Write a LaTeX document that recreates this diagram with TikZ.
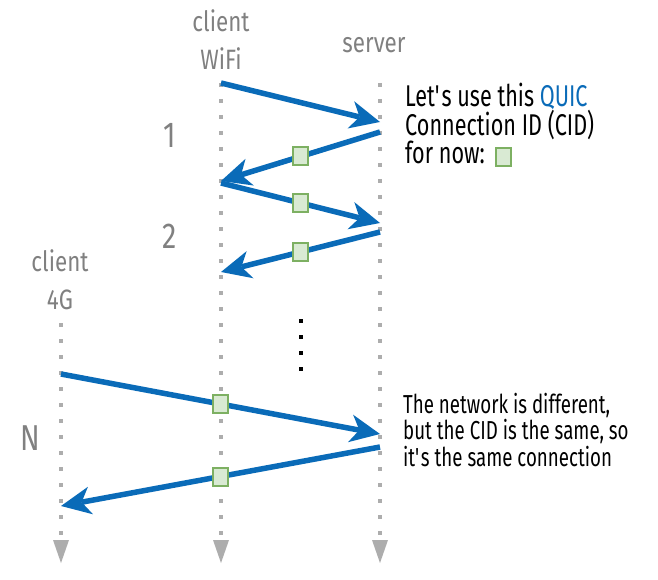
\documentclass[tikz,border=0pt]{standalone}
\usepackage{fontspec}
\setmainfont[FakeStretch=0.72]{Fira Sans}
\newfontfamily\labelfont[FakeStretch=0.8]{Fira Sans}
\usetikzlibrary{arrows.meta}

\definecolor{quicblue}{HTML}{0A6BB8}
\definecolor{labelgray}{HTML}{808080}
\definecolor{dotgray}{HTML}{ADADAD}
\definecolor{cidfill}{HTML}{D9EAD3}
\definecolor{cidline}{HTML}{7DB062}

\tikzset{
  lifeline/.style={dotgray, line width=4pt, dash pattern=on 4pt off 12pt,
    -{Triangle[length=23pt,width=16pt,line width=0pt]}},
  msg/.style={quicblue, line width=5.5pt,
    -{Stealth[length=30pt,width=28pt,inset=9pt,line width=0pt]}},
  cid/.style={draw=cidline, fill=cidfill, line width=2pt, minimum width=15pt,
    minimum height=18pt, inner sep=0pt},
  actor/.style={labelgray, align=center, inner sep=0pt, font=\labelfont\fontsize{28}{38}\selectfont},
  stepnum/.style={labelgray, inner sep=0pt, font=\labelfont\fontsize{36}{36}\selectfont},
  note/.style={black, align=left, inner sep=0pt}
}

\begin{document}
\begin{tikzpicture}[x=1pt,y=-1pt]
  \useasboundingbox (0,0) rectangle (658,580);

  % who talks
  \node[actor, anchor=base] (wifi) at (221,70) {client\\WiFi};
  \node[actor, anchor=base] (server) at (374,53) {server};
  \node[actor, anchor=base] (lte) at (60,309) {client\\4G};

  \node[stepnum, anchor=base] (n1) at (170,148) {1};
  \node[stepnum, anchor=base] (n2) at (170,248) {2};
  \node[stepnum, anchor=base] (nN) at (30,450) {N};

  % lifelines
  \coordinate (wifi top) at (221,83);
  \coordinate (wifi end) at (221,563);
  \coordinate (server top) at (380,83);
  \coordinate (server end) at (380,563);
  \coordinate (lte top) at (61,323);
  \coordinate (lte end) at (61,563);
  \draw[lifeline] (wifi top) -- (wifi end);
  \draw[lifeline] (server top) -- (server end);
  \draw[lifeline] (lte top) -- (lte end);

  % packets over WiFi
  \coordinate (w1) at (221,83);
  \coordinate (s1) at (380,122);
  \coordinate (s2) at (380,132);
  \coordinate (w2) at (221,181);
  \coordinate (w3) at (221,183);
  \coordinate (s3) at (380,223);
  \coordinate (s4) at (380,232);
  \coordinate (w4) at (221,272);
  \draw[msg] (w1) -- (s1);
  \draw[msg] (s2) -- node[cid] (cid1) {} (w2);
  \draw[msg] (w3) -- node[cid] (cid2) {} (s3);
  \draw[msg] (s4) -- node[cid] (cid3) {} (w4);

  % more steps
  \coordinate (more top) at (301,319);
  \coordinate (more end) at (301,371);
  \draw[black, line width=4pt, dash pattern=on 4pt off 12pt] (more top) -- (more end);

  % packets over 4G
  \coordinate (l1) at (61,374);
  \coordinate (s5) at (380,434);
  \coordinate (s6) at (380,447);
  \coordinate (l2) at (61,506);
  \draw[msg] (l1) -- node[cid] (cid4) {} (s5);
  \draw[msg] (s6) -- node[cid] (cid5) {} (l2);

  % notes
  \node[note, anchor=base west, font=\fontsize{30}{28.5}\selectfont] (note1) at (405,164)
    {Let\textquotesingle s use this \textcolor{quicblue}{QUIC}\\Connection ID (CID)\\for now:};
  \node[cid] (legend) at (503.5,157) {};
  \node[note, anchor=base west, font=\fontsize{26}{26.5}\selectfont] (note2) at (403,466)
    {The network is different,\\but the CID is the same, so\\it\textquotesingle s the same connection};
\end{tikzpicture}
\end{document}
